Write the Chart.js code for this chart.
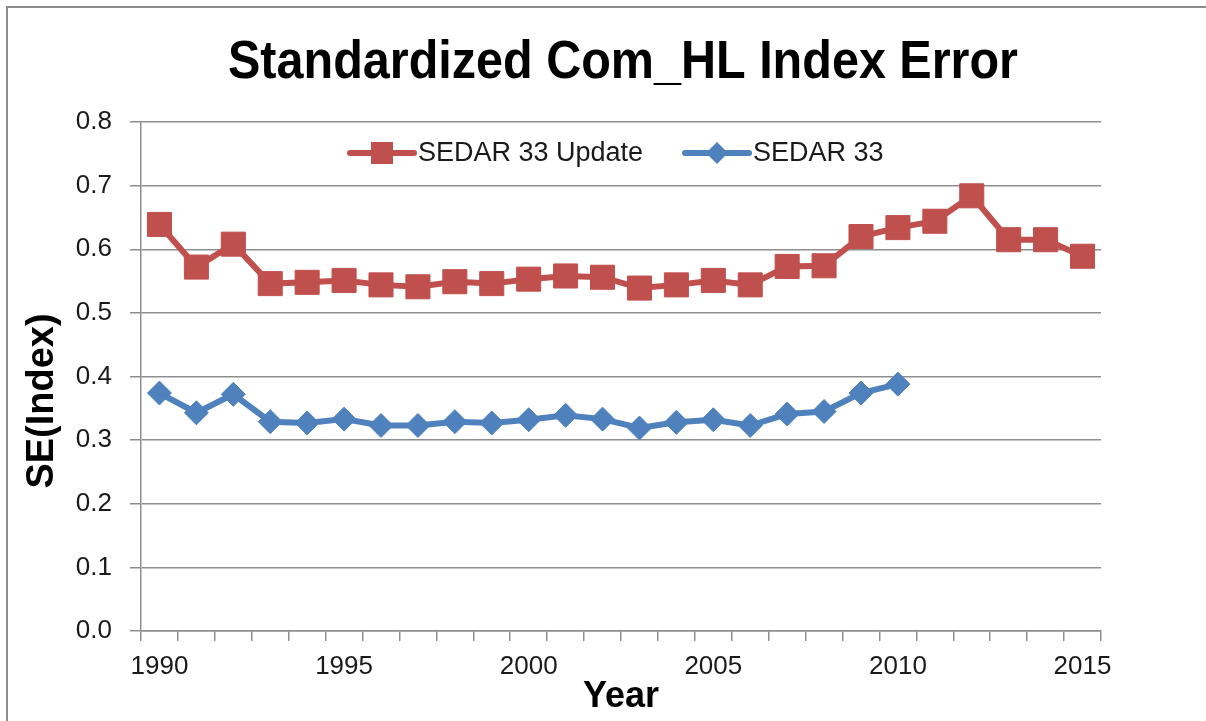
<!DOCTYPE html>
<html>
<head>
<meta charset="utf-8">
<title>Standardized Com_HL Index Error</title>
<script src="https://cdn.jsdelivr.net/npm/chart.js@4.4.1/dist/chart.umd.min.js"></script>
<style>
    html, body { margin: 0; padding: 0; background: #fff; overflow: hidden; }
    #chart { display: block; }
</style>
</head>
<body>
<canvas id="chart" width="1206" height="721"></canvas>
<script>
// Chart data
const years = ['1990', '1991', '1992', '1993', '1994', '1995', '1996', '1997', '1998', '1999',
    '2000', '2001', '2002', '2003', '2004', '2005', '2006', '2007', '2008', '2009',
    '2010', '2011', '2012', '2013', '2014', '2015'];
const updateSE = [0.639, 0.572, 0.608, 0.546, 0.548, 0.551, 0.544, 0.541, 0.549, 0.546,
    0.553, 0.558, 0.556, 0.539, 0.544, 0.551, 0.544, 0.573, 0.574, 0.620,
    0.634, 0.644, 0.684, 0.615, 0.615, 0.589];
const sedar33SE = [0.374, 0.343, 0.372, 0.329, 0.327, 0.333, 0.323, 0.323, 0.329, 0.327,
    0.332, 0.339, 0.333, 0.319, 0.328, 0.332, 0.323, 0.341, 0.345, 0.374,
    0.388, null, null, null, null, null];
const labeledYears = ['1990', '1995', '2000', '2005', '2010', '2015'];

const RED = '#C0504D';
const BLUE = '#4F81BD';
const GRID = '#8e8e8e';
const FONT = '"Liberation Sans", Arial, sans-serif';

// Title, y axis title, legend and outer frame
const decorations = {
    id: 'decorations',
    beforeDraw(chart) {
        const ctx = chart.ctx;
        ctx.save();
        ctx.strokeStyle = '#8c8c8c';
        ctx.lineWidth = 2;
        ctx.beginPath();
        ctx.moveTo(7, 721);
        ctx.lineTo(7, 7);
        ctx.lineTo(1206, 7);
        ctx.stroke();
        ctx.restore();
    },
    afterDraw(chart) {
        const ctx = chart.ctx;
        const area = chart.chartArea;
        const cx = (area.left + area.right) / 2;

        // chart title, squeezed to look like the narrow original
        ctx.save();
        ctx.fillStyle = '#000';
        ctx.font = 'bold 53px ' + FONT;
        ctx.textAlign = 'center';
        ctx.textBaseline = 'middle';
        const title = 'Standardized Com_HL Index Error';
        const sx = 790 / ctx.measureText(title).width;
        ctx.translate(cx + 2, 63);
        ctx.scale(sx, 1);
        ctx.fillText(title, 0, 0);
        ctx.restore();

        // y axis title
        ctx.save();
        ctx.fillStyle = '#000';
        ctx.font = 'bold 38px ' + FONT;
        ctx.textAlign = 'center';
        ctx.textBaseline = 'middle';
        ctx.translate(43, 401);
        ctx.rotate(-Math.PI / 2);
        ctx.fillText('SE(Index)', 0, 0);
        ctx.restore();

        // legend inside the plot area
        const items = [
            { ds: chart.data.datasets[0], x: 350 },
            { ds: chart.data.datasets[1], x: 685 }
        ];
        const ly = 153;
        items.forEach(item => {
            const ds = item.ds;
            ctx.save();
            ctx.strokeStyle = ds.borderColor;
            ctx.lineWidth = 6;
            ctx.lineCap = 'round';
            ctx.beginPath();
            ctx.moveTo(item.x, ly);
            ctx.lineTo(item.x + 64, ly);
            ctx.stroke();
            const mx = item.x + 32;
            ctx.fillStyle = ds.backgroundColor;
            ctx.beginPath();
            if (ds.pointStyle === 'rect') {
                ctx.rect(mx - 11, ly - 11, 22, 22);
            } else {
                ctx.moveTo(mx, ly - 11);
                ctx.lineTo(mx + 11, ly);
                ctx.lineTo(mx, ly + 11);
                ctx.lineTo(mx - 11, ly);
                ctx.closePath();
            }
            ctx.fill();
            ctx.fillStyle = '#1a1a1a';
            ctx.font = '27px ' + FONT;
            ctx.textAlign = 'left';
            ctx.textBaseline = 'middle';
            ctx.fillText(ds.label, item.x + 68, ly + 1);
            ctx.restore();
        });
    }
};

const ctx = document.getElementById('chart').getContext('2d');
new Chart(ctx, {
    type: 'line',
    data: {
        labels: years,
        datasets: [{
            label: 'SEDAR 33 Update',
            data: updateSE,
            borderColor: RED,
            backgroundColor: RED,
            borderWidth: 6,
            pointStyle: 'rect',
            pointRadius: 17,
            pointBorderWidth: 1,
            pointHoverRadius: 17,
            tension: 0
        }, {
            label: 'SEDAR 33',
            data: sedar33SE,
            borderColor: BLUE,
            backgroundColor: BLUE,
            borderWidth: 6,
            pointStyle: 'rectRot',
            pointRadius: 12,
            pointBorderWidth: 1,
            pointHoverRadius: 12,
            tension: 0,
            spanGaps: false
        }]
    },
    options: {
        responsive: false,
        animation: false,
        devicePixelRatio: 1,
        layout: {
            padding: { top: 122, left: 0, right: 105, bottom: 0 }
        },
        plugins: {
            legend: { display: false },
            title: { display: false },
            tooltip: { enabled: false }
        },
        scales: {
            x: {
                type: 'category',
                offset: true,
                afterFit: scale => { scale.height = 90; },
                grid: {
                    display: true,
                    offset: true,
                    drawOnChartArea: false,
                    drawTicks: true,
                    tickLength: 10,
                    color: GRID,
                    lineWidth: 1.5
                },
                border: { display: true, color: GRID, width: 1.5 },
                ticks: {
                    autoSkip: false,
                    maxRotation: 0,
                    minRotation: 0,
                    padding: 10,
                    color: '#1a1a1a',
                    font: { family: FONT, size: 26 },
                    callback: function(value) {
                        const label = this.getLabelForValue(value);
                        return labeledYears.includes(label) ? label : '';
                    }
                },
                title: {
                    display: true,
                    text: 'Year',
                    color: '#000',
                    font: { family: FONT, size: 36, weight: 'bold', lineHeight: 1 },
                    padding: { top: 0, bottom: 6 }
                }
            },
            y: {
                min: 0,
                max: 0.8,
                afterFit: scale => { scale.width = 141; },
                grid: {
                    color: GRID,
                    lineWidth: 1.5,
                    drawTicks: true,
                    tickLength: 11
                },
                border: { display: true, color: GRID, width: 1.5 },
                ticks: {
                    stepSize: 0.1,
                    padding: 18,
                    color: '#1a1a1a',
                    font: { family: FONT, size: 26 },
                    callback: value => value.toFixed(1)
                }
            }
        }
    },
    plugins: [decorations]
});
</script>
</body>
</html>
